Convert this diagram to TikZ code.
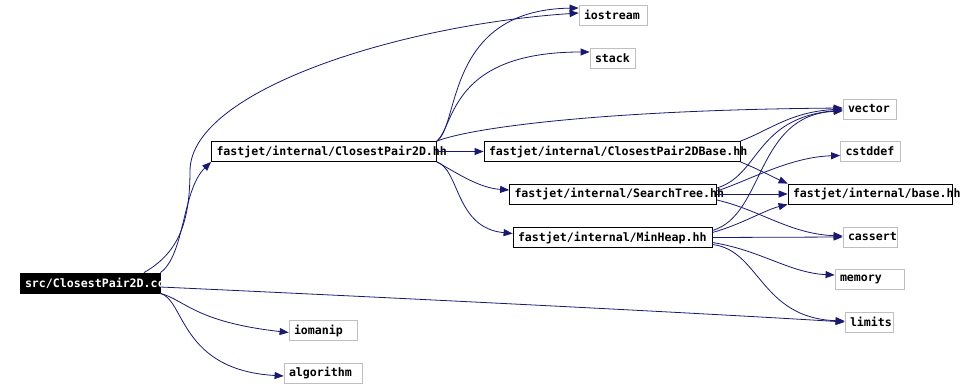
\documentclass[tikz,border=0pt]{standalone}
\usepackage{fontspec}
\newfontfamily\incfont{DejaVu Sans Mono}[HyphenChar=None]
\usetikzlibrary{arrows.meta,calc}
\definecolor{edgeblue}{HTML}{191970}
\definecolor{sysgray}{HTML}{BFBFBF}
\tikzset{
  inclbase/.style={rectangle, minimum height=20pt, inner xsep=5pt, inner ysep=0pt, align=left, font=\incfont\bfseries\fontsize{11.6pt}{14pt}\selectfont, line width=0.8pt},
  inclroot/.style={inclbase, draw=black, fill=black, text=white},
  inclnode/.style={inclbase, draw=black, fill=white},
  inclsys/.style={inclbase, draw=sysgray, fill=white},
  inclarrow/.style={-{Triangle[length=9pt,width=7pt]}, draw=edgeblue, line width=0.8pt}
}
\begin{document}
\begin{tikzpicture}[x=1pt,y=-1pt]
\fill[white] (0,0) rectangle (966,388);

\node[inclroot, text width=130pt] (src) at (90,283) {src/ClosestPair2D.cc};
\node[inclnode, text width=215pt] (pair) at (324,151.5) {fastjet/internal/ClosestPair2D.hh};
\node[inclnode, text width=246pt] (pairbase) at (612,151.5) {fastjet/internal/ClosestPair2DBase.hh};
\node[inclnode, text width=197pt] (tree) at (613,194) {fastjet/internal/SearchTree.hh};
\node[inclnode, text width=189pt] (heap) at (612.5,237.5) {fastjet/internal/MinHeap.hh};
\node[inclnode, text width=154pt] (base) at (870,194) {fastjet/internal/base.hh};

\node[inclsys, text width=58pt] (iostream) at (613,15) {iostream};
\node[inclsys, text width=35pt] (stack) at (612.5,58) {stack};
\node[inclsys, text width=43pt] (vector) at (869.5,109) {vector};
\node[inclsys, text width=50pt] (cstddef) at (870.5,151.5) {cstddef};
\node[inclsys, text width=44pt] (cassert) at (870,237) {cassert};
\node[inclsys, text width=59pt] (memory) at (869.5,279) {memory};
\node[inclsys, text width=38pt] (limits) at (869,322) {limits};
\node[inclsys, text width=58pt] (iomanip) at (323,330.5) {iomanip};
\node[inclsys, text width=68pt] (algorithm) at (323,373) {algorithm};

\draw[inclarrow] ($(src.north)+(54,0)$) .. controls (180,252) and (190,220) .. (190,170) .. controls (192,90) and (400,25) .. ($(iostream.west)+(0,-2)$);
\draw[inclarrow] (src.north east) .. controls (185,255) and (182,190) .. (pair.south west);
\draw[inclarrow] ($(src.east)+(0,4)$) .. controls (400,298) and (700,313) .. (limits.west);
\draw[inclarrow] (src.south east) .. controls (185,300) and (195,322) .. ($(iomanip.west)+(0,2)$);
\draw[inclarrow] (src.south east) .. controls (185,300) and (180,370) .. ($(algorithm.west)+(0,3)$);

\draw[inclarrow] (pair.north east) .. controls (460,125) and (445,10) .. ($(iostream.west)+(0,-7)$);
\draw[inclarrow] (pair.north east) .. controls (455,125) and (450,52) .. ($(stack.west)+(0,-6)$);
\draw[inclarrow] (pair.north east) .. controls (470,128) and (600,110) .. ($(vector.west)+(0,-1)$);
\draw[inclarrow] (pair.east) -- (pairbase.west);
\draw[inclarrow] (pair.south east) .. controls (460,175) and (480,188) .. ($(tree.west)+(0,-4)$);
\draw[inclarrow] (pair.south east) .. controls (460,170) and (455,228) .. ($(heap.west)+(0,-4)$);

\draw[inclarrow] (pairbase.north east) .. controls (770,130) and (790,112) .. (vector.west);
\draw[inclarrow] (pairbase.south east) .. controls (760,170) and (775,178) .. (base.north west);

\draw[inclarrow] ($(tree.east)+(0,-6)$) .. controls (760,175) and (755,118) .. ($(vector.west)+(0,1)$);
\draw[inclarrow] ($(tree.east)+(0,-3)$) .. controls (750,180) and (790,157) .. ($(cstddef.west)+(0,4)$);
\draw[inclarrow] (tree.east) -- (base.west);
\draw[inclarrow] ($(tree.east)+(0,6)$) .. controls (760,210) and (790,234) .. ($(cassert.west)+(0,-1)$);

\draw[inclarrow] ($(heap.east)+(0,-7)$) .. controls (765,215) and (755,115) .. ($(vector.west)+(0,2)$);
\draw[inclarrow] ($(heap.east)+(0,-5)$) .. controls (740,225) and (765,210) .. (base.south west);
\draw[inclarrow] (heap.east) -- (cassert.west);
\draw[inclarrow] ($(heap.east)+(0,5)$) .. controls (760,250) and (790,273) .. ($(memory.west)+(0,-4)$);
\draw[inclarrow] ($(heap.east)+(0,7)$) .. controls (760,250) and (760,318) .. ($(limits.west)+(0,-1)$);
\end{tikzpicture}
\end{document}
